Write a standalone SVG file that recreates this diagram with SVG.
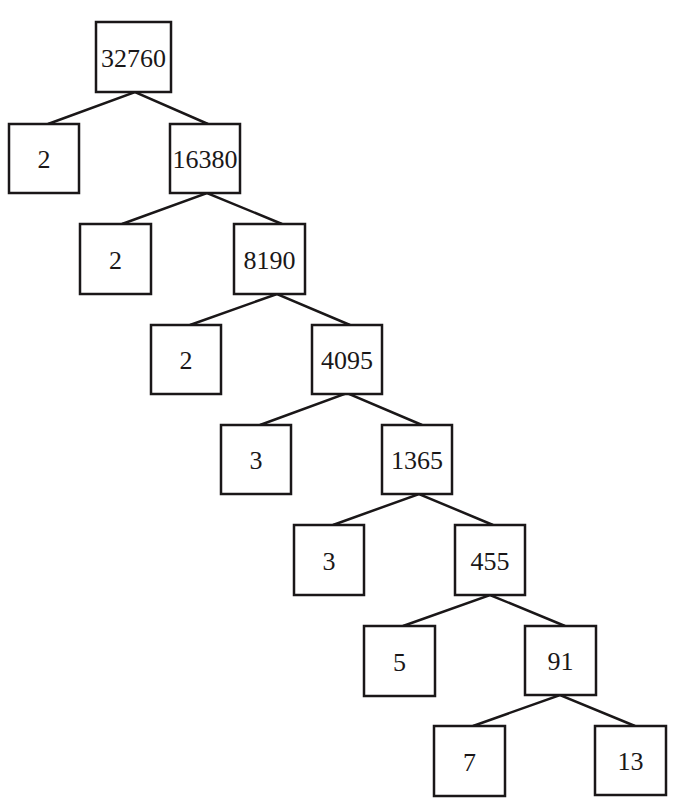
<svg xmlns="http://www.w3.org/2000/svg" width="680" height="803" viewBox="0 0 680 803">
<style>
.box{fill:#fff;stroke:#1a1718;stroke-width:2.5}
.lbl{font-family:"Liberation Serif","Times New Roman",serif;font-size:26px;fill:#1a1718;text-anchor:middle}
.edge{stroke:#1a1718;stroke-width:2.5;fill:none}
</style>
<rect width="680" height="803" fill="#fff"/>
<g id="connectors">
<path class="edge" d="M48,124 L135,92 L208,124"/>
<path class="edge" d="M122,224 L207,193 L282,224"/>
<path class="edge" d="M190,325 L277,294 L350,325"/>
<path class="edge" d="M260,425 L347,393 L422,425"/>
<path class="edge" d="M333,525 L419,494 L493,525"/>
<path class="edge" d="M403,626 L490,595 L565,626"/>
<path class="edge" d="M473,726 L560,695 L635,726"/>
</g>
<g id="n32760"><rect class="box" x="96" y="22" width="75" height="70"/><text class="lbl" x="133.5" y="66.5">32760</text></g>
<g id="n2a"><rect class="box" x="9" y="124" width="70" height="69"/><text class="lbl" x="44" y="168">2</text></g>
<g id="n16380"><rect class="box" x="170" y="124" width="70" height="69"/><text class="lbl" x="205" y="168">16380</text></g>
<g id="n2b"><rect class="box" x="80" y="224" width="71" height="70"/><text class="lbl" x="115.5" y="268.5">2</text></g>
<g id="n8190"><rect class="box" x="234" y="224" width="71" height="70"/><text class="lbl" x="269.5" y="268.5">8190</text></g>
<g id="n2c"><rect class="box" x="151" y="325" width="70" height="69"/><text class="lbl" x="186" y="369">2</text></g>
<g id="n4095"><rect class="box" x="312" y="325" width="70" height="69"/><text class="lbl" x="347" y="369">4095</text></g>
<g id="n3a"><rect class="box" x="221" y="425" width="70" height="69"/><text class="lbl" x="256" y="469">3</text></g>
<g id="n1365"><rect class="box" x="382" y="425" width="70" height="69"/><text class="lbl" x="417" y="469">1365</text></g>
<g id="n3b"><rect class="box" x="294" y="525" width="70" height="70"/><text class="lbl" x="329" y="569.5">3</text></g>
<g id="n455"><rect class="box" x="455" y="525" width="70" height="70"/><text class="lbl" x="490" y="569.5">455</text></g>
<g id="n5"><rect class="box" x="364" y="626" width="71" height="70"/><text class="lbl" x="399.5" y="670.5">5</text></g>
<g id="n91"><rect class="box" x="525" y="626" width="71" height="69"/><text class="lbl" x="560.5" y="670">91</text></g>
<g id="n7"><rect class="box" x="434" y="726" width="71" height="70"/><text class="lbl" x="469.5" y="770.5">7</text></g>
<g id="n13"><rect class="box" x="595" y="726" width="71" height="69"/><text class="lbl" x="630.5" y="770">13</text></g>
</svg>
